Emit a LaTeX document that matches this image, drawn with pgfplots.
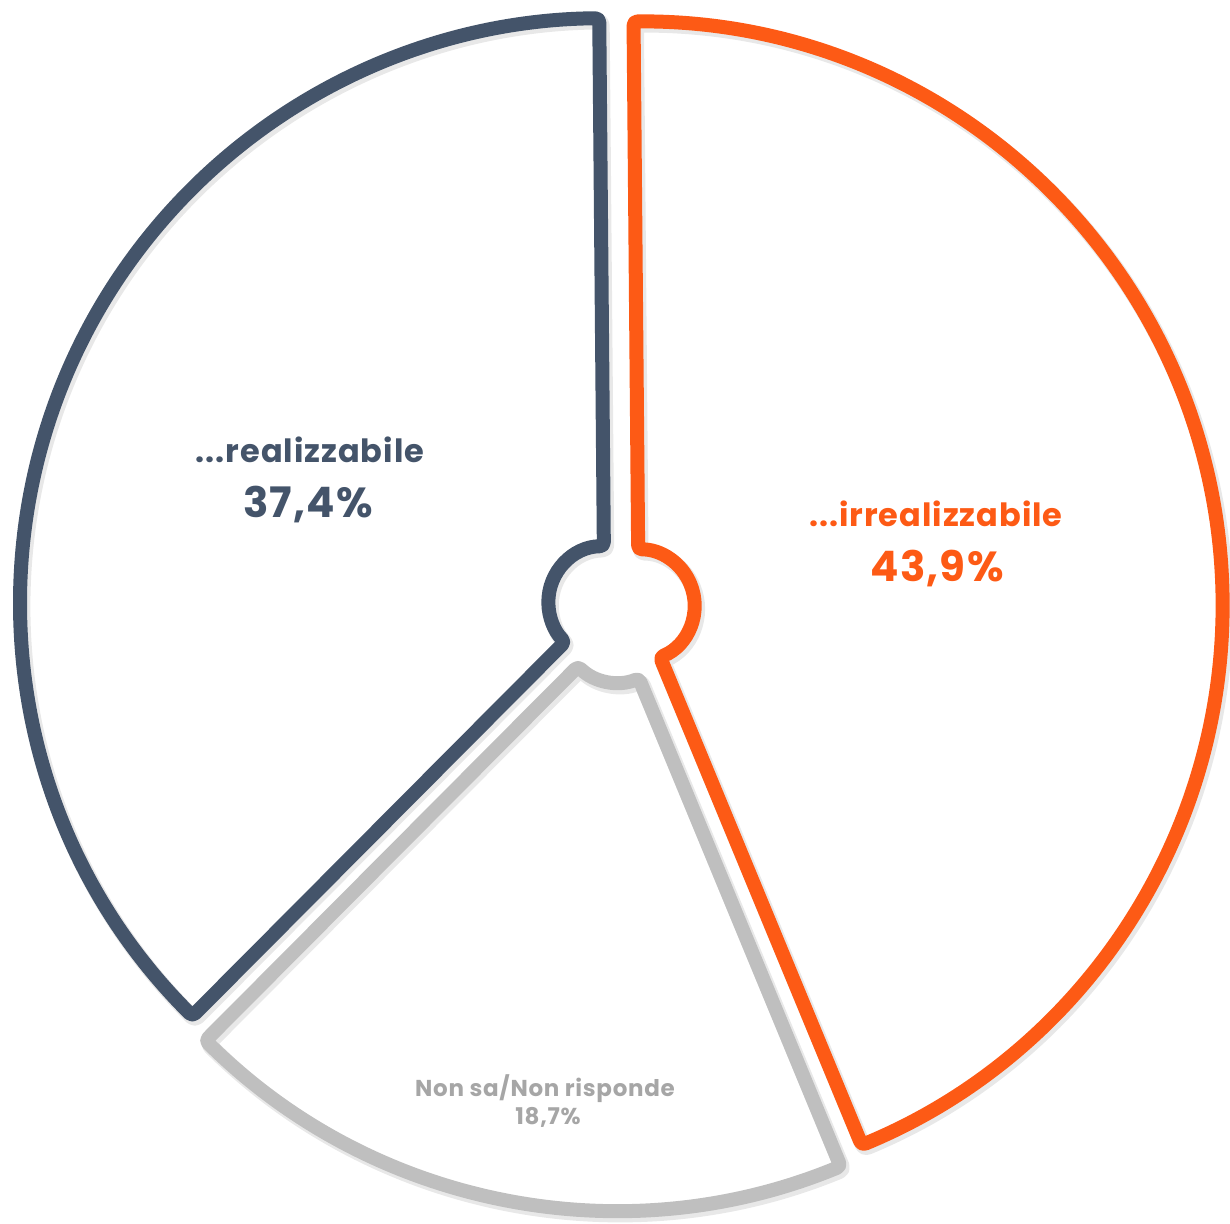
\documentclass[border=0pt]{standalone}
\usepackage{fontspec}
\setmainfont{Poppins}
\usepackage{pgfplots}
\pgfplotsset{compat=1.18}
\usepackage{pgfplotstable}

\definecolor{darkslice}{HTML}{44546A}
\definecolor{orangeslice}{HTML}{FD5A15}
\definecolor{grayslice}{HTML}{BFBFBF}
\definecolor{graytext}{HTML}{A6A6A6}

% shares in percent, clockwise from the top
\pgfplotstableread{
share
43.9
18.7
37.4
}\pietable

% one exploded slice: #1 start angle, #2 share, #3 colour
% units are pixels of the reference (x=y=0.5pt)
\newcommand\pieslice[3]{%
  \pgfmathsetmacro\sa{#1}%
  \pgfmathsetmacro\sb{#1-3.6*#2}%
  \pgfmathsetmacro\sm{(\sa+\sb)/2}%
  \pgfmathsetmacro\cx{621+18*cos(\sm)}%
  \pgfmathsetmacro\cy{615+18*sin(\sm)}%
  \pgfmathsetmacro\xa{\cx+584*cos(\sa)}%
  \pgfmathsetmacro\ya{\cy+584*sin(\sa)}%
  \pgfmathsetmacro\xb{\cx+56*cos(\sb)}%
  \pgfmathsetmacro\yb{\cy+56*sin(\sb)}%
  \edef\temp{%
    \noexpand\draw[black, opacity=0.09, line width=8pt, line join=round,
      rounded corners=2pt, xshift=1.2pt, yshift=-1.6pt]
      (axis cs:\xa,\ya) arc[start angle=\sa, end angle=\sb, radius=292pt]
      -- (axis cs:\xb,\yb) arc[start angle=\sb, end angle=\sa, radius=28pt] -- cycle;
    \noexpand\draw[#3, line width=7pt, line join=round, rounded corners=2pt]
      (axis cs:\xa,\ya) arc[start angle=\sa, end angle=\sb, radius=292pt]
      -- (axis cs:\xb,\yb) arc[start angle=\sb, end angle=\sa, radius=28pt] -- cycle;}%
  \temp
}

\begin{document}
\begin{tikzpicture}
\pgfplotstablegetelem{0}{share}\of\pietable \let\sA\pgfplotsretval
\pgfplotstablegetelem{1}{share}\of\pietable \let\sB\pgfplotsretval
\pgfplotstablegetelem{2}{share}\of\pietable \let\sC\pgfplotsretval
\pgfmathsetmacro\angA{90.5}
\pgfmathsetmacro\angB{\angA-3.6*\sA}
\pgfmathsetmacro\angC{\angB-3.6*\sB}
\begin{axis}[
  x=0.5pt, y=0.5pt,
  xmin=0, xmax=1230, ymin=0, ymax=1224,
  hide axis, clip=false
]
\pieslice{\angA}{\sA}{orangeslice}
\pieslice{\angB}{\sB}{grayslice}
\pieslice{\angC}{\sC}{darkslice}

\node[anchor=base, text=darkslice, font=\fontsize{16}{19}\selectfont\bfseries\addfontfeatures{LetterSpace=3}] at (axis cs:310,761) {...realizzabile};
\node[anchor=base, text=darkslice, font=\fontsize{21}{25}\selectfont\bfseries\addfontfeatures{LetterSpace=3}] at (axis cs:308,706) {37,4\%};
\node[anchor=base, text=orangeslice, font=\fontsize{16}{19}\selectfont\bfseries\addfontfeatures{LetterSpace=3}] at (axis cs:936,697) {...irrealizzabile};
\node[anchor=base, text=orangeslice, font=\fontsize{21}{25}\selectfont\bfseries\addfontfeatures{LetterSpace=3}] at (axis cs:937,642) {43,9\%};
\node[anchor=base, text=graytext, font=\fontsize{11.5}{14}\selectfont\bfseries\addfontfeatures{LetterSpace=3}] at (axis cs:545,127) {Non sa/Non risponde};
\node[anchor=base, text=graytext, font=\fontsize{11.5}{14}\selectfont\bfseries\addfontfeatures{LetterSpace=3}] at (axis cs:548,99) {18,7\%};
\end{axis}
% arcs' control points would widen the page: keep it to the axis box
\pgfresetboundingbox
\path (current axis.south west) rectangle (current axis.north east);
\end{tikzpicture}
\end{document}
